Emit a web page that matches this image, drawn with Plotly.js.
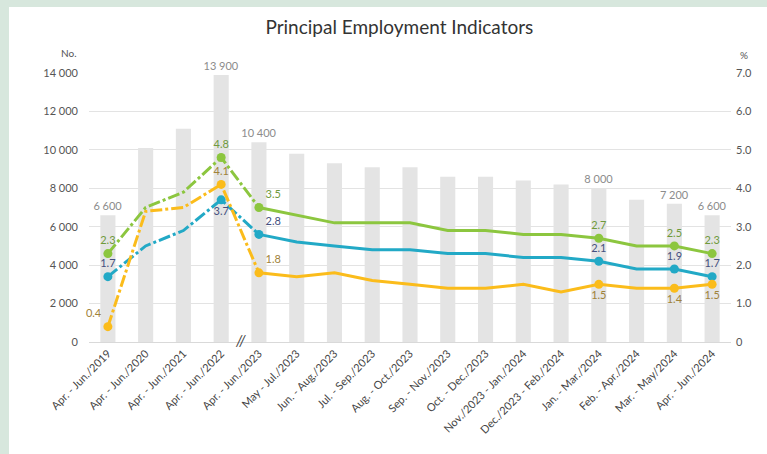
<!DOCTYPE html>
<html>
<head>
<meta charset="utf-8">
<script src="https://cdn.plot.ly/plotly-3.0.1.min.js"></script>
<style>
html,body{margin:0;padding:0;background:#d7e7dd;width:767px;height:454px;overflow:hidden;}
#plot{position:absolute;left:9px;top:7px;width:758px;height:447px;background:#fff;}
</style>
</head>
<body>
<div id="plot"></div>
<script>
const categories = [
  "Apr. - Jun./2019","Apr. - Jun./2020","Apr. - Jun./2021","Apr. - Jun./2022",
  "Apr. - Jun./2023","May - Jul./2023","Jun. - Aug./2023","Jul. - Sep./2023",
  "Aug. - Oct./2023","Sep. - Nov./2023","Oct. - Dec./2023","Nov./2023 - Jan./2024",
  "Dec./2023 - Feb./2024","Jan. - Mar./2024","Feb. - Apr./2024","Mar. - May/2024",
  "Apr. - Jun./2024"
];
const barValues = [6600,10100,11100,13900,10400,9800,9300,9100,9100,8600,8600,8400,8200,8000,7400,7200,6600];
const greenValues = [2.3,3.5,3.9,4.8,3.5,3.3,3.1,3.1,3.1,2.9,2.9,2.8,2.8,2.7,2.5,2.5,2.3];
const blueValues = [1.7,2.5,2.9,3.7,2.8,2.6,2.5,2.4,2.4,2.3,2.3,2.2,2.2,2.1,1.9,1.9,1.7];
const yellowValues = [0.4,3.4,3.5,4.1,1.8,1.7,1.8,1.6,1.5,1.4,1.4,1.5,1.3,1.5,1.4,1.4,1.5];
const labeledIdx = [0,3,4,13,15,16];
const breakIdx = 4;
const leftTicks = [0,2000,4000,6000,8000,10000,12000,14000];
const rightTicks = [0,1,2,3,4,5,6,7];
const rightTickText = ["0","1.0","2.0","3.0","4.0","5.0","6.0","7.0"];

const FONT = "Lato, 'Open Sans', sans-serif";

function fmtThousands(v){ return String(v).replace(/\B(?=(\d{3})+(?!\d))/g, " "); }

const traces = [];
traces.push({
  type:'bar', x:categories, y:barValues, yaxis:'y',
  marker:{color:'#e4e4e4'},
  text: barValues.map((v,i)=> labeledIdx.includes(i) ? fmtThousands(v) : ""),
  textposition:'outside', cliponaxis:false, constraintext:'none',
  textfont:{family:FONT,size:11,color:'#8c8c8c'},
  hoverinfo:'skip', showlegend:false
});

function addSeries(vals, color, labelColor, positions){
  traces.push({type:'scatter', mode:'lines', x:categories.slice(0,breakIdx+1), y:vals.slice(0,breakIdx+1), yaxis:'y2',
    line:{color:color,width:3,dash:'12px,3px,3px,3px'}, showlegend:false, hoverinfo:'skip'});
  traces.push({type:'scatter', mode:'lines', x:categories.slice(breakIdx), y:vals.slice(breakIdx), yaxis:'y2',
    line:{color:color,width:3}, showlegend:false, hoverinfo:'skip'});
  traces.push({type:'scatter', mode:'markers+text',
    x:labeledIdx.map(i=>categories[i]), y:labeledIdx.map(i=>vals[i]), yaxis:'y2',
    text:labeledIdx.map(i=>vals[i].toFixed(1)), textposition:positions,
    textfont:{family:FONT,size:11,color:labelColor}, cliponaxis:false,
    marker:{color:color,size:9}, showlegend:false, hoverinfo:'skip'});
}
addSeries(greenValues,'#8cc63f','#6f9a3c',['top center','top center','top right','top center','top center','top center']);
addSeries(blueValues,'#22a9c6','#45507f',['top center','bottom center','top right','top center','top center','top center']);
addSeries(yellowValues,'#fbbc1b','#a0823a',['top left','top center','top right','bottom center','bottom center','bottom center']);

const layout = {
  width:758, height:447,
  margin:{l:80,r:36,t:66,b:112},
  paper_bgcolor:'#ffffff', plot_bgcolor:'#ffffff',
  separators:'. ',
  font:{family:FONT,color:'#555'},
  title:{text:'Principal Employment Indicators', font:{family:FONT,size:19,color:'#333'}, x:0.515, xanchor:'center', y:0.955, yanchor:'middle'},
  bargap:0.6,
  xaxis:{type:'category', range:[-0.5,16.5], tickangle:-45, tickfont:{family:FONT,size:11,color:'#444'},
    showgrid:false, showline:true, linecolor:'#d9d9d9', linewidth:1, ticks:'', fixedrange:true},
  yaxis:{range:[0,14000], tickvals:leftTicks, tickformat:',', tickfont:{family:FONT,size:11,color:'#555'},
    showgrid:true, gridcolor:'#e3e3e3', gridwidth:1, zeroline:false, ticks:'', ticklabelstandoff:10},
  yaxis2:{range:[0,7], overlaying:'y', side:'right', tickvals:rightTicks, ticktext:rightTickText,
    tickfont:{family:FONT,size:11,color:'#555'}, showgrid:false, zeroline:false, ticks:'', ticklabelstandoff:4},
  annotations:[
    {xref:'paper',yref:'paper',x:-0.047,y:1.104,text:'No.',showarrow:false,font:{family:FONT,size:10,color:'#555'}},
    {xref:'paper',yref:'paper',x:1.03,y:1.097,text:'%',showarrow:false,font:{family:FONT,size:10,color:'#555'}},
    {xref:'x',yref:'y',x:3.5,y:0,text:'<i>//</i>',showarrow:false,font:{family:FONT,size:15,color:'#444'},yshift:2}
  ]
};
Plotly.newPlot('plot', traces, layout, {staticPlot:true});
</script>
</body>
</html>
